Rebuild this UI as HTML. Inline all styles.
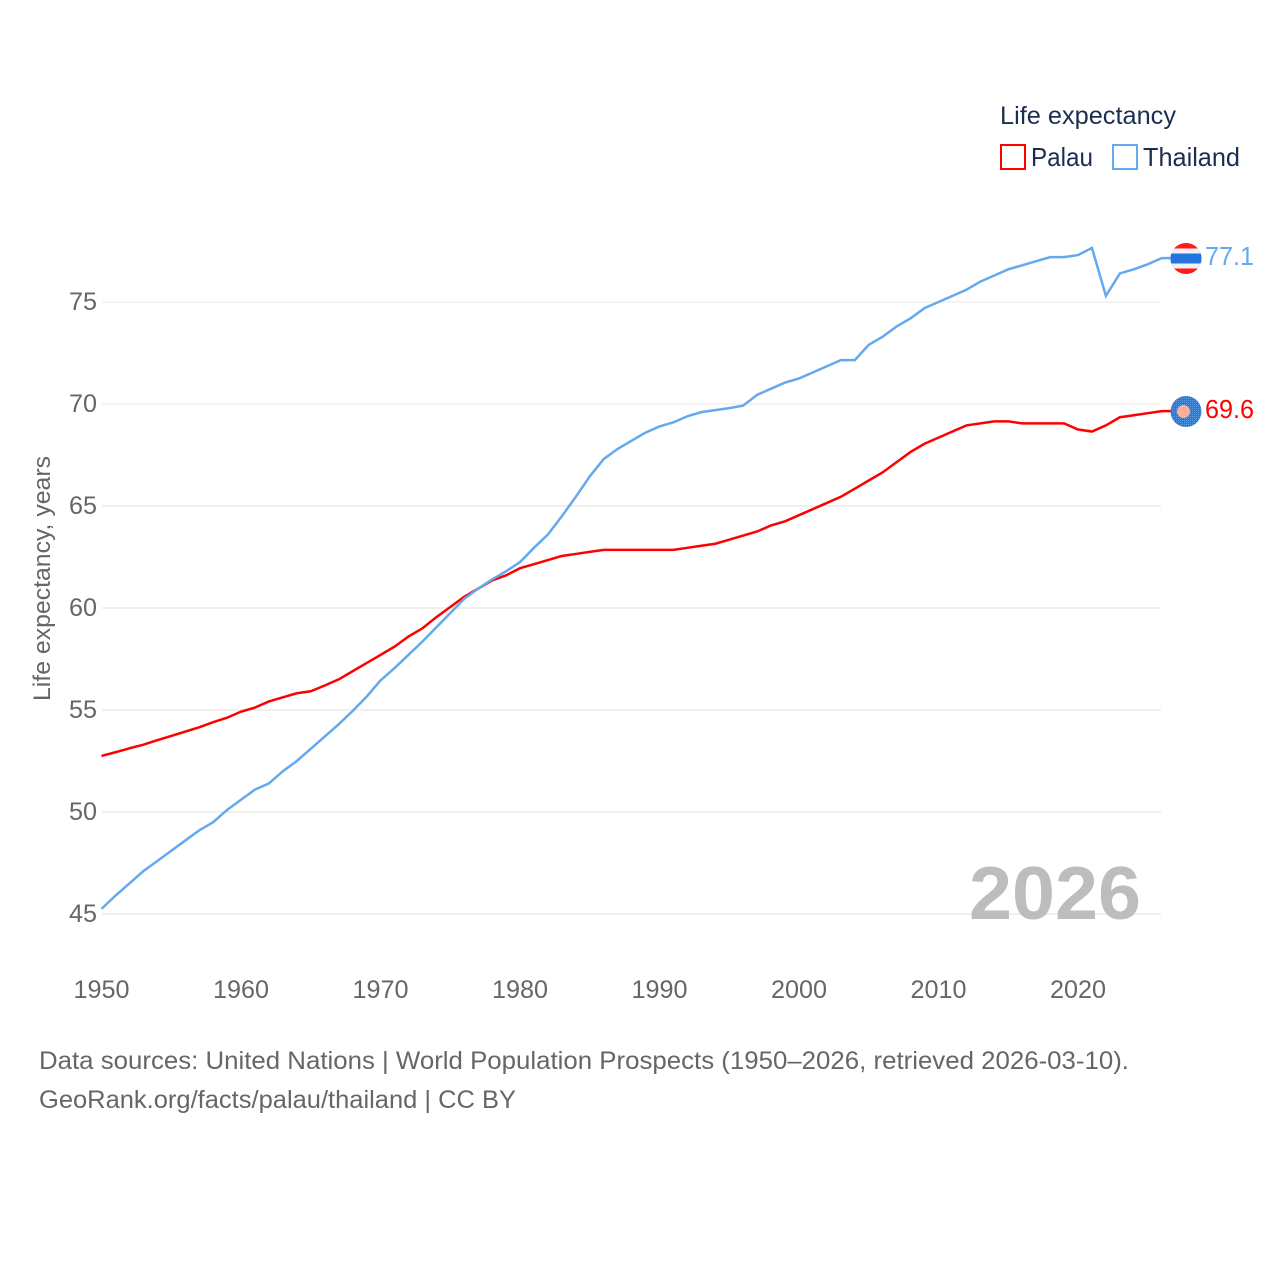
<!DOCTYPE html>
<html lang="en">
<head>
<meta charset="utf-8">
<title>Life expectancy: Palau and Thailand</title>
<style>
html,body{margin:0;padding:0;background:#fff;}
svg{display:block;font-family:"Liberation Sans",sans-serif;}
</style>
</head>
<body>
<svg id="chart" width="1280" height="1280" viewBox="0 0 1280 1280" xmlns="http://www.w3.org/2000/svg">
  <rect x="0" y="0" width="1280" height="1280" fill="#ffffff"/>
  <g id="grid"></g>
  <g id="yTicks"></g>
  <g id="xTicks"></g>
  <text transform="translate(50,701) rotate(-90)" font-size="24" fill="#666666" textLength="245" lengthAdjust="spacingAndGlyphs">Life expectancy, years</text>
  <text x="969" y="919" font-size="75" font-weight="700" fill="#bdbdbd" textLength="172" lengthAdjust="spacingAndGlyphs">2026</text>
  <g id="series"></g>

  <g>
    <text x="1000" y="124" font-size="25" fill="#1a2f4f" textLength="176" lengthAdjust="spacingAndGlyphs">Life expectancy</text>
    <rect x="1001" y="145" width="24" height="24" fill="#ffffff" stroke="#ff0000" stroke-width="2"/>
    <text x="1031" y="166" font-size="26" fill="#1a2f4f" textLength="62" lengthAdjust="spacingAndGlyphs">Palau</text>
    <rect x="1113" y="145" width="24" height="24" fill="#ffffff" stroke="#64a9ee" stroke-width="2"/>
    <text x="1143" y="166" font-size="26" fill="#1a2f4f" textLength="97" lengthAdjust="spacingAndGlyphs">Thailand</text>
  </g>

  <defs>
    <clipPath id="thFlagClip"><circle cx="1186" cy="258.5" r="15.5"/></clipPath>
    <pattern id="palauDots" width="2" height="2" patternUnits="userSpaceOnUse">
      <rect width="2" height="2" fill="#2b78d8"/>
      <rect width="1" height="1" fill="#5a9be6"/>
    </pattern>
  </defs>
  <g id="flagThailand" clip-path="url(#thFlagClip)">
    <rect x="1170" y="243" width="32" height="31" fill="#ff1a1a"/>
    <rect x="1170" y="248.5" width="32" height="20" fill="#f1f1f1"/>
    <rect x="1170" y="253.5" width="32" height="10" fill="#2474de"/>
  </g>
  <g id="flagPalau">
    <circle cx="1186" cy="411.5" r="15.5" fill="url(#palauDots)"/>
    <circle cx="1183.5" cy="411.5" r="6.5" fill="#fbb09c"/>
  </g>
  <text x="1205" y="265" font-size="26" fill="#64a9ee" textLength="49" lengthAdjust="spacingAndGlyphs">77.1</text>
  <text x="1205" y="418" font-size="26" fill="#ff0000" textLength="49" lengthAdjust="spacingAndGlyphs">69.6</text>

  <text x="39" y="1069" font-size="25" fill="#666666" textLength="1090" lengthAdjust="spacingAndGlyphs">Data sources: United Nations | World Population Prospects (1950–2026, retrieved 2026-03-10).</text>
  <text x="39" y="1108" font-size="25" fill="#666666" textLength="477" lengthAdjust="spacingAndGlyphs">GeoRank.org/facts/palau/thailand | CC BY</text>
</svg>
<script>
const startYear = 1950;
const yTickValues = [45, 50, 55, 60, 65, 70, 75];
const xTickValues = [1950, 1960, 1970, 1980, 1990, 2000, 2010, 2020];
const palauValues = [52.75,52.93,53.12,53.3,53.52,53.73,53.94,54.15,54.4,54.62,54.92,55.12,55.42,55.62,55.82,55.92,56.2,56.5,56.9,57.3,57.7,58.1,58.6,59.0,59.55,60.05,60.55,60.95,61.35,61.6,61.95,62.15,62.35,62.55,62.65,62.75,62.85,62.85,62.85,62.85,62.85,62.85,62.95,63.05,63.15,63.35,63.55,63.75,64.05,64.25,64.55,64.85,65.15,65.45,65.85,66.25,66.65,67.15,67.65,68.05,68.35,68.65,68.95,69.05,69.15,69.15,69.05,69.05,69.05,69.05,68.75,68.65,68.95,69.35,69.45,69.55,69.65];
const thailandValues = [45.25,45.9,46.5,47.1,47.6,48.1,48.6,49.1,49.5,50.1,50.6,51.1,51.4,52.0,52.5,53.1,53.7,54.3,54.95,55.65,56.45,57.05,57.7,58.35,59.05,59.75,60.45,60.95,61.4,61.8,62.25,62.95,63.6,64.5,65.45,66.45,67.3,67.8,68.2,68.6,68.9,69.1,69.4,69.6,69.7,69.8,69.92,70.45,70.75,71.05,71.25,71.55,71.85,72.15,72.15,72.9,73.3,73.8,74.2,74.7,75.0,75.3,75.6,76.0,76.3,76.6,76.8,77.0,77.2,77.2,77.3,77.65,75.3,76.4,76.6,76.85,77.15];

const NS = 'http://www.w3.org/2000/svg';
const xScale = year => 101.5 + (year - 1950) * 13.95;
const yScale = value => 914 - (value - 45) * 20.4;

const gridGroup = document.getElementById('grid');
const yGroup = document.getElementById('yTicks');
const xGroup = document.getElementById('xTicks');
const seriesGroup = document.getElementById('series');

yTickValues.forEach(function (v) {
  const line = document.createElementNS(NS, 'line');
  
  
  line.setAttribute('x1', 102);
  line.setAttribute('x2', 1161);
  line.setAttribute('y1', yScale(v));
  line.setAttribute('y2', yScale(v));
  line.setAttribute('stroke', '#eeeeee');
  line.setAttribute('stroke-width', v === 75 || v === 70 ? 1.2 : 1.8);
  gridGroup.appendChild(line);

  const label = document.createElementNS(NS, 'text');
  
  
  label.setAttribute('x', 97);
  label.setAttribute('y', yScale(v) + 8);
  label.setAttribute('text-anchor', 'end');
  label.setAttribute('font-size', 25);
  label.setAttribute('fill', '#666666');
  label.setAttribute('textLength', 28);
  label.setAttribute('lengthAdjust', 'spacingAndGlyphs');
  label.textContent = v;
  yGroup.appendChild(label);
});

xTickValues.forEach(function (y) {
  const label = document.createElementNS(NS, 'text');
  
  
  label.setAttribute('x', xScale(y));
  label.setAttribute('y', 998);
  label.setAttribute('text-anchor', 'middle');
  label.setAttribute('font-size', 25);
  label.setAttribute('fill', '#666666');
  label.setAttribute('textLength', 56);
  label.setAttribute('lengthAdjust', 'spacingAndGlyphs');
  label.textContent = y;
  xGroup.appendChild(label);
});

function buildPoints(values) {
  const pts = values.map(function (v, i) {
    return xScale(startYear + i).toFixed(2) + ',' + yScale(v).toFixed(2);
  });
  const lastY = yScale(values[values.length - 1]).toFixed(2);
  pts.push('1172,' + lastY);
  return pts.join(' ');
}

const palauLine = document.createElementNS(NS, 'polyline');


palauLine.setAttribute('points', buildPoints(palauValues));
palauLine.setAttribute('fill', 'none');
palauLine.setAttribute('stroke', '#ff0000');
palauLine.setAttribute('stroke-width', 2.5);
seriesGroup.appendChild(palauLine);

const thailandLine = document.createElementNS(NS, 'polyline');


thailandLine.setAttribute('points', buildPoints(thailandValues));
thailandLine.setAttribute('fill', 'none');
thailandLine.setAttribute('stroke', '#64a9ee');
thailandLine.setAttribute('stroke-width', 2.5);
seriesGroup.appendChild(thailandLine);
</script>
</body>
</html>
